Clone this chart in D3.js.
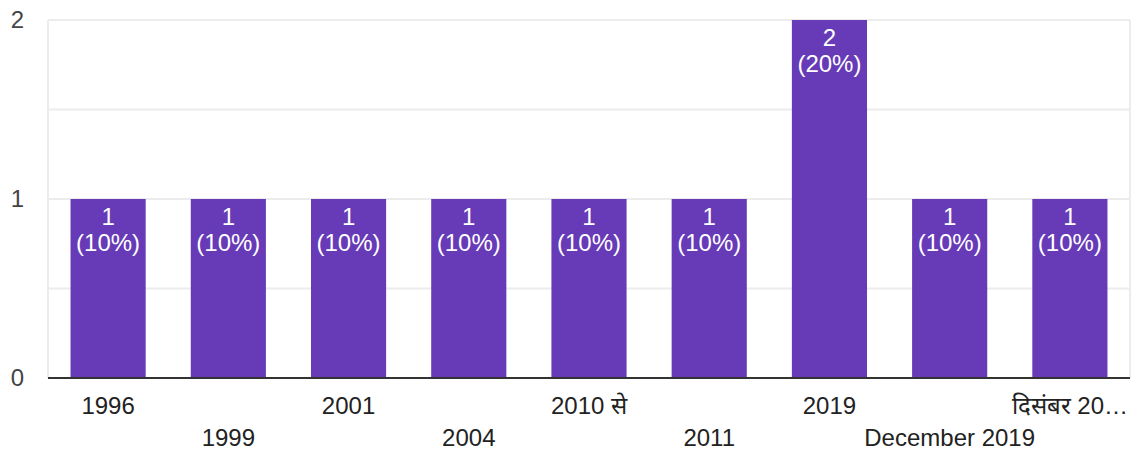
<!DOCTYPE html>
<html>
<head>
<meta charset="utf-8">
<script src="https://cdn.jsdelivr.net/npm/d3@7"></script>
<style>
  html, body { margin: 0; padding: 0; background: #fff; }
  svg { display: block; font-family: "Liberation Sans", Arial, "Noto Sans", sans-serif; }
</style>
</head>
<body>
<svg id="chart" width="1140" height="453"></svg>
<script>
// Responses per answer
const categories = ["1996", "1999", "2001", "2004", "2010 से", "2011", "2019", "December 2019", "दिसंबर 2019"];
const counts = [1, 1, 1, 1, 1, 1, 2, 1, 1];
const percents = ["10%", "10%", "10%", "10%", "10%", "10%", "20%", "10%", "10%"];
const yTicks = [0, 1, 2];
const gridValues = [0.5, 1, 1.5, 2];

const width = 1140, height = 453;
const margin = { top: 20, right: 10, bottom: 75, left: 48 };
const barColor = "#673ab7";
const fontSize = 24;

const svg = d3.select("#chart");

const x = d3.scaleBand()
  .domain(categories)
  .range([margin.left, width - margin.right])
  .paddingInner(0.375)
  .paddingOuter(0.1875);

const y = d3.scaleLinear()
  .domain([0, 2])
  .range([height - margin.bottom, margin.top]);

// Grid: horizontal lines plus frame sides
const grid = svg.append("g").attr("stroke", "#ececec").attr("stroke-width", 2);
grid.selectAll("line.h")
  .data(gridValues)
  .join("line")
  .attr("class", "h")
  .attr("x1", margin.left).attr("x2", width - margin.right)
  .attr("y1", d => y(d)).attr("y2", d => y(d));
grid.selectAll("line.v")
  .data([margin.left, width - margin.right])
  .join("line")
  .attr("class", "v")
  .attr("x1", d => d).attr("x2", d => d)
  .attr("y1", y(2)).attr("y2", y(0));

// Bars
const rows = categories.map((c, i) => ({ cat: c, value: counts[i], pct: percents[i] }));

svg.append("g")
  .selectAll("rect")
  .data(rows)
  .join("rect")
  .attr("x", d => x(d.cat))
  .attr("width", x.bandwidth())
  .attr("y", d => y(d.value))
  .attr("height", d => y(0) - y(d.value))
  .attr("fill", barColor);

// Value labels inside bars
const vl = svg.append("g")
  .attr("fill", "#fff")
  .attr("font-size", fontSize)
  .attr("text-anchor", "middle");
vl.selectAll("text.count")
  .data(rows)
  .join("text")
  .attr("class", "count")
  .attr("x", d => x(d.cat) + x.bandwidth() / 2)
  .attr("y", d => y(d.value) + 26)
  .text(d => d.value);
vl.selectAll("text.pct")
  .data(rows)
  .join("text")
  .attr("class", "pct")
  .attr("x", d => x(d.cat) + x.bandwidth() / 2)
  .attr("y", d => y(d.value) + 52)
  .text(d => "(" + d.pct + ")");

// Baseline
svg.append("line")
  .attr("x1", margin.left).attr("x2", width - margin.right)
  .attr("y1", y(0)).attr("y2", y(0))
  .attr("stroke", "#333").attr("stroke-width", 2);

// Y axis labels
const yAxis = d3.axisLeft(y).tickValues(yTicks).tickFormat(d3.format("d")).tickSize(0).tickPadding(0);
const yg = svg.append("g")
  .attr("transform", `translate(${margin.left - 24},0)`)
  .call(yAxis);
yg.select(".domain").remove();
yg.selectAll("text")
  .attr("font-size", fontSize)
  .attr("font-family", null)
  .attr("fill", "#444");

// X axis labels, staggered on two rows; long labels are shortened with an ellipsis
function shorten(s) {
  return s.length > 10 && !/^[A-Za-z]/.test(s) ? s.slice(0, 9) + "…" : s;
}
const xAxis = d3.axisBottom(x).tickSize(0).tickPadding(0).tickFormat(shorten);
const xg = svg.append("g")
  .attr("transform", `translate(0,${y(0)})`)
  .call(xAxis);
xg.select(".domain").remove();
xg.selectAll("text")
  .attr("font-size", fontSize)
  .attr("font-family", null)
  .attr("fill", "#222")
  .attr("dy", null)
  .attr("y", (d, i) => (i % 2 === 0 ? 36 : 68));
</script>
</body>
</html>
